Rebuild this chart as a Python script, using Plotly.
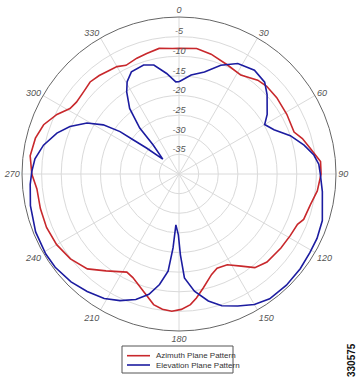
import plotly.graph_objects as go

# Azimuth plane pattern (red): angle in degrees, gain in dB
az_theta = [0, 8, 15, 24, 32, 40, 45, 52, 61, 70, 74, 79, 85, 90, 97, 103, 110, 113, 119,
            126, 135, 141, 146, 152, 158, 162, 168, 172, 175, 179, 183, 187, 191, 197, 204,
            208, 217, 224, 232, 240, 248, 256, 264, 270, 277, 284, 290, 296, 301, 305, 311,
            316, 321, 326, 330, 334, 340, 345, 351, 357, 360]
az_gain = [-8.0, -7.7, -8.4, -9.6, -10.3, -8.8, -8.4, -8.4, -8.6, -8.8, -7.3, -5.9, -3.8, -3.8,
           -4.5, -5.6, -6.2, -7.2, -7.6, -7.9, -8.3, -9.3, -11.7, -13.8, -14.1, -13.1, -10.3,
           -8.1, -6.6, -5.5, -5.0, -5.3, -6.1, -8.8, -11.1, -11.7, -9.1, -6.4, -4.9, -4.0, -3.6,
           -3.6, -3.6, -2.5, -1.8, -2.3, -3.3, -5.4, -7.6, -8.1, -7.9, -7.4, -7.7, -8.2, -8.4,
           -9.2, -8.6, -8.2, -7.6, -8.0, -8.0]

# Elevation plane pattern (blue)
el_theta = [0, 7, 14, 21, 28, 36, 43, 48, 56, 60, 65, 71, 77, 82, 86, 90, 97, 108, 115, 121,
            128, 136, 144, 150, 156, 162, 167, 172.5, 177, 179, 180.6, 183.5, 184.6, 186.4,
            190, 194, 199, 205, 211, 218, 225, 233, 239, 248, 258, 266, 271, 276, 282, 288.5,
            293.5, 299, 303, 305.7, 306.7, 308.6, 312.5, 318.4, 319.5, 323, 327.5, 330.7, 335,
            342, 347, 353, 358, 360]
el_gain = [-16.5, -14.6, -13.2, -10.3, -8.1, -7.3, -8.0, -9.8, -12.9, -14.8, -13.3, -10.0, -7.3,
           -5.3, -4.3, -4.0, -3.2, -1.6, -1.2, -1.1, -0.8, -0.6, -0.7, -1.6, -3.2, -4.7, -6.8,
           -9.9, -13.5, -19.4, -24.5, -27.0, -21.1, -15.1, -11.4, -8.4, -6.2, -4.4, -3.0, -2.0,
           -1.1, -0.5, -0.4, -0.6, -1.3, -2.0, -2.5, -3.1, -4.7, -7.2, -9.7, -13.2, -17.0,
           -21.5, -25.4, -29.4, -34.4, -30.1, -24.6, -19.1, -15.2, -13.0, -11.3, -10.8, -11.5,
           -14.2, -16.5, -16.5]

series_names = ["Azimuth Plane Pattern", "Elevation Plane Pattern"]
ring_vals = [-5, -10, -15, -20, -25, -30, -35]
ring_labels = ["-5", "-10", "-15", "-20", "-25", "-30", "-35"]
angle_vals = [0, 30, 60, 90, 120, 150, 180, 210, 240, 270, 300, 330]
angle_labels = [str(a) for a in angle_vals]

RED = "#c8282c"
BLUE = "#1c1ca0"
GRID = "#dadada"
W, H = 360, 380


def px(x):
    return x / W


def py(y):
    return 1 - y / H


fig = go.Figure()
fig.add_trace(go.Scatterpolar(theta=az_theta, r=az_gain, mode="lines",
                              line=dict(color=RED, width=1.6),
                              name=series_names[0], showlegend=False))
fig.add_trace(go.Scatterpolar(theta=el_theta, r=el_gain, mode="lines",
                              line=dict(color=BLUE, width=1.6),
                              name=series_names[1], showlegend=False))
# radial ring labels along the 0-degree spoke
fig.add_trace(go.Scatterpolar(theta=[0] * len(ring_vals), r=ring_vals, mode="text",
                              text=ring_labels, textposition="top center",
                              textfont=dict(family="Liberation Sans, Arial", size=9,
                                            color="#555555", style="italic"),
                              showlegend=False, hoverinfo="skip"))

# compact legend box (drawn below the chart)
leg_x0, leg_x1, leg_y0, leg_y1 = 122, 233, 346, 373
row_y = [355.7, 365.0]
shapes = [dict(type="rect", xref="paper", yref="paper",
               x0=px(leg_x0), x1=px(leg_x1), y0=py(leg_y1), y1=py(leg_y0),
               line=dict(color="#555555", width=1), fillcolor="white")]
annotations = []
for name, color, yy in zip(series_names, [RED, BLUE], row_y):
    shapes.append(dict(type="line", xref="paper", yref="paper",
                       x0=px(127), x1=px(150), y0=py(yy), y1=py(yy),
                       line=dict(color=color, width=1.6)))
    annotations.append(dict(text=name, x=px(154), y=py(yy), xref="paper", yref="paper",
                            xanchor="left", yanchor="middle", showarrow=False,
                            font=dict(family="Liberation Sans, Arial", size=8,
                                      color="#333333")))
annotations.append(dict(
    text="<b>330575</b>", x=px(351), y=py(360), xref="paper", yref="paper",
    xanchor="center", yanchor="middle", showarrow=False, textangle=-90,
    font=dict(family="Liberation Sans, Arial", size=10, color="#111111"),
))

fig.update_layout(
    width=W, height=H,
    margin=dict(l=0, r=0, t=0, b=0),
    paper_bgcolor="white",
    plot_bgcolor="white",
    showlegend=False,
    font=dict(family="Liberation Sans, Arial", size=9, color="#555555"),
    polar=dict(
        domain=dict(x=[px(22), px(336)], y=[py(331), py(17)]),
        bgcolor="white",
        angularaxis=dict(
            rotation=90, direction="clockwise",
            tickmode="array", tickvals=angle_vals, ticktext=angle_labels,
            showgrid=True, gridcolor=GRID, gridwidth=1,
            showline=True, linecolor="#666666", linewidth=1,
            ticks="", tickfont=dict(size=9, color="#555555", style="italic"),
        ),
        radialaxis=dict(
            range=[-40, 0], tickmode="array", tickvals=ring_vals + [0],
            showticklabels=False, ticks="", showline=False,
            showgrid=True, gridcolor=GRID, gridwidth=1, angle=90,
        ),
    ),
    shapes=shapes,
    annotations=annotations,
)

fig.write_html("out.html",
               config={"displayModeBar": False},
               post_script="document.body.style.margin='0px';"
                           "document.body.style.overflow='hidden';")
